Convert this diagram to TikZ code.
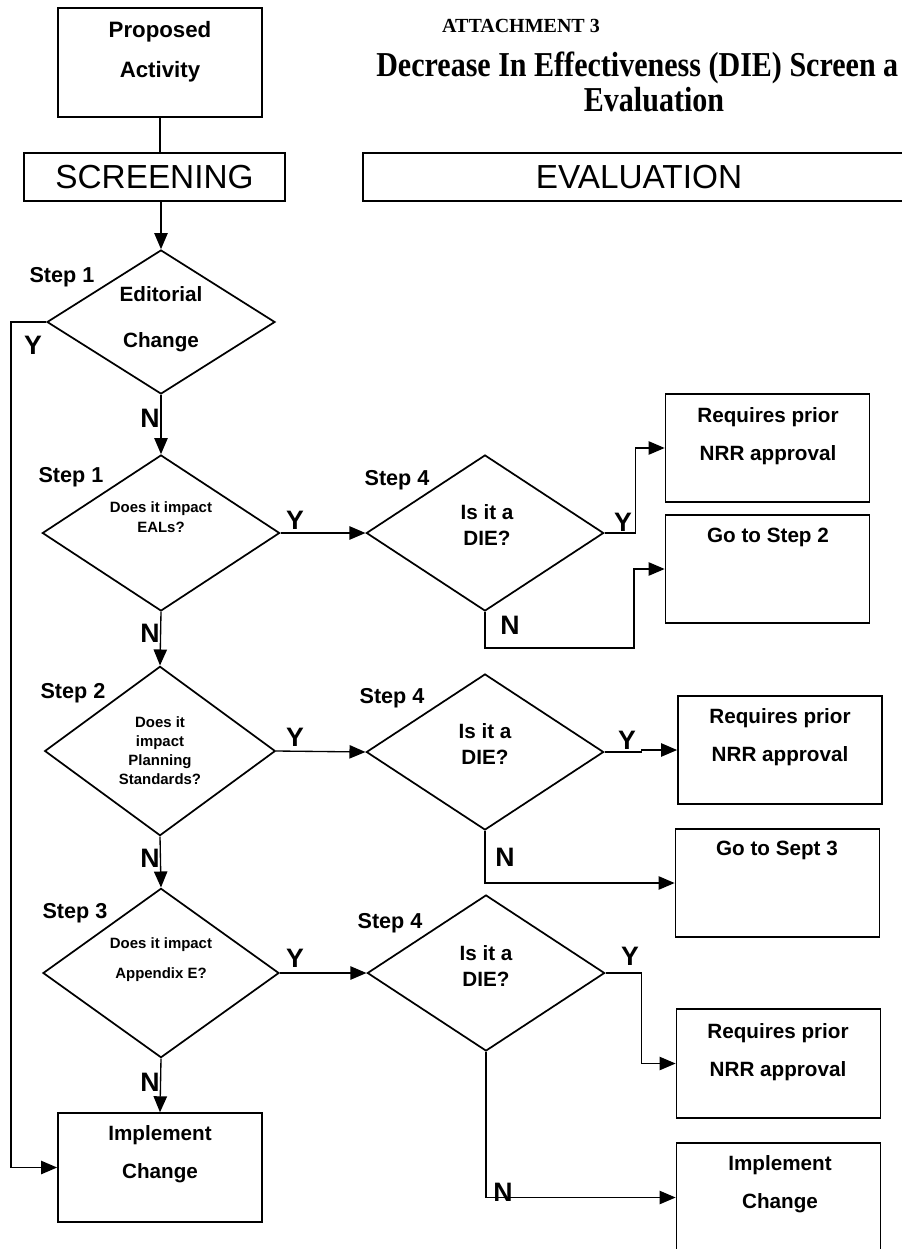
\documentclass[tikz,border=0pt]{standalone}
\usepackage{fontspec}
\setmainfont{Liberation Serif}
\setsansfont{Liberation Sans}
\newfontfamily\titlefont{Liberation Serif}[FakeStretch=0.86]
\usetikzlibrary{shapes.geometric,arrows.meta}

\begin{document}
\begin{tikzpicture}[x=0.75pt,y=-0.75pt,
	box/.style={draw,line width=1.3pt,minimum width=153pt,minimum height=81.5pt,inner sep=0pt},
	decision/.style={draw,diamond,line width=1.3pt,inner sep=0pt,minimum width=178pt,minimum height=117pt},
	boxtext/.style={font=\sffamily\bfseries\fontsize{15.5}{28.5}\selectfont,align=center,inner sep=0pt},
	dietext/.style={font=\sffamily\bfseries\fontsize{15.5}{19.5}\selectfont,align=center,inner sep=0pt},
	smalltext/.style={font=\sffamily\bfseries\fontsize{11.2}{15}\selectfont,align=center,inner sep=0pt},
	steplabel/.style={font=\sffamily\bfseries\fontsize{16.2}{19}\selectfont,inner sep=0pt},
	yn/.style={font=\sffamily\bfseries\fontsize{20}{24}\selectfont,inner sep=0pt},
	phase/.style={draw,line width=1.3pt,minimum height=36pt,inner sep=0pt,font=\sffamily\fontsize{25}{30}\selectfont},
	flow/.style={line width=1pt,-{Triangle[length=12pt,width=10pt]}}]
	\useasboundingbox (0,0) rectangle (901,1249);
	% heading
	\node[font=\bfseries\fontsize{15}{18}\selectfont,inner sep=0pt] (att) at (521,26) {ATTACHMENT 3};
	\node[font=\titlefont\bfseries\fontsize{26.2}{30}\selectfont,anchor=base west,inner sep=0pt] (title) at (376,76.5) {Decrease In Effectiveness (DIE) Screen a};
	\node[font=\titlefont\bfseries\fontsize{26.2}{30}\selectfont,anchor=base,inner sep=0pt] (title2) at (654,111.5) {Evaluation};
	% screening column
	\node[box,minimum width=153pt,minimum height=82pt] (act) at (160,62.5) {};
	\node[boxtext,font=\sffamily\bfseries\fontsize{16.7}{30}\selectfont] (act-t) at (160,52) {Proposed\\Activity};
	\node[phase,minimum width=196pt] (scr) at (154.5,177) {SCREENING};
	\node[phase,minimum width=414pt] (eva) at (639,177) {EVALUATION};
	\node[decision,minimum width=171pt,minimum height=108pt] (edit) at (161,322) {};
	\node[dietext] (edit-t) at (161,319) {Editorial\\[15pt]Change};
	\node[decision] (eal) at (161,533) {};
	\node[smalltext] (eal-t) at (161,517) {Does it impact\\EALs?};
	\node[decision,minimum width=173pt,minimum height=127pt] (plan) at (160,751) {};
	\node[smalltext,font=\sffamily\bfseries\fontsize{11.2}{14.25}\selectfont] (plan-t) at (160,751) {Does it\\impact\\Planning\\Standards?};
	\node[decision,minimum width=177pt,minimum height=127pt] (app) at (161,973) {};
	\node[smalltext] (app-t) at (161,959.5) {Does it impact\\[8pt]Appendix E?};
	\node[box] (impl) at (160,1167.5) {};
	\node[boxtext] (impl-t) at (160,1154) {Implement\\Change};
	% evaluation column
	\node[decision] (diea) at (485,533) {};
	\node[dietext] (diea-t) at (487,525) {Is it a\\DIE?};
	\node[decision] (dieb) at (485,752) {};
	\node[dietext] (dieb-t) at (485,744) {Is it a\\DIE?};
	\node[decision] (diec) at (486,973) {};
	\node[dietext] (diec-t) at (486,965.5) {Is it a\\DIE?};
	\node[box] (nrra) at (767.5,448) {};
	\node[boxtext] (nrra-t) at (768,436) {Requires prior\\NRR approval};
	\node[box] (goa) at (767.5,569) {};
	\node[boxtext] (goa-t) at (768,537) {Go to Step 2};
	\node[box] (nrrb) at (780,750) {};
	\node[boxtext] (nrrb-t) at (780,737.5) {Requires prior\\NRR approval};
	\node[box] (gob) at (777.5,883) {};
	\node[boxtext] (gob-t) at (777,850) {Go to Sept 3};
	\node[box] (nrrc) at (778.5,1063.5) {};
	\node[boxtext] (nrrc-t) at (778,1052) {Requires prior\\NRR approval};
	\node[box] (implb) at (778.5,1197.5) {};
	\node[boxtext] (implb-t) at (780,1184) {Implement\\Change};
	% step labels
	\node[steplabel] (s1a) at (62,277) {Step 1};
	\node[steplabel] (s1b) at (71,477) {Step 1};
	\node[steplabel] (s2) at (73,693) {Step 2};
	\node[steplabel] (s3) at (75,913) {Step 3};
	\node[steplabel] (s4a) at (397,480) {Step 4};
	\node[steplabel] (s4b) at (392,698) {Step 4};
	\node[steplabel] (s4c) at (390,923) {Step 4};
	% Y/N labels
	\node[yn] (y0) at (33,345) {Y};
	\node[yn] (n1) at (150,418) {N};
	\node[yn] (y1) at (295,520) {Y};
	\node[yn] (n2) at (150,633) {N};
	\node[yn] (y2) at (295,737) {Y};
	\node[yn] (n3) at (150,858) {N};
	\node[yn] (y3) at (295,958) {Y};
	\node[yn] (n4) at (150,1082) {N};
	\node[yn] (ya) at (623,522) {Y};
	\node[yn] (na) at (510,625) {N};
	\node[yn] (yb) at (627,740) {Y};
	\node[yn] (nb) at (505,857) {N};
	\node[yn] (yc) at (630,956) {Y};
	\node[yn] (nc) at (503,1192) {N};
	% connectors
	\draw[line width=1pt] (act.south) -- (act.south |- scr.north);
	\draw[flow] (edit.north |- scr.south) -- (edit.north);
	\draw[flow] (edit.south) -- (eal.north);
	\draw[flow] (eal.south) -- (plan.north);
	\draw[flow] (plan.south) -- (app.north);
	\draw[flow] (app.south) -- (impl.north);
	\draw[flow] (edit.west) -- ++(-35,0) |- (impl.west);
	\draw[flow] (eal.east) -- (diea.west);
	\draw[flow] (plan.east) -- (dieb.west);
	\draw[flow] (app.east) -- (diec.west);
	\draw[flow] (diea.east) -- ++(31,0) |- (nrra.west);
	\draw[flow] (diea.south) -- ++(0,36) -- ++(149,0) |- (goa.west);
	\draw[flow] (dieb.east) -- ++(37,0) |- (nrrb.west);
	\draw[flow] (dieb.south) |- (gob.west);
	\draw[flow] (diec.east) -- ++(36,0) |- (nrrc.west);
	\draw[flow] (diec.south) |- (implb.west);
\end{tikzpicture}
\end{document}
